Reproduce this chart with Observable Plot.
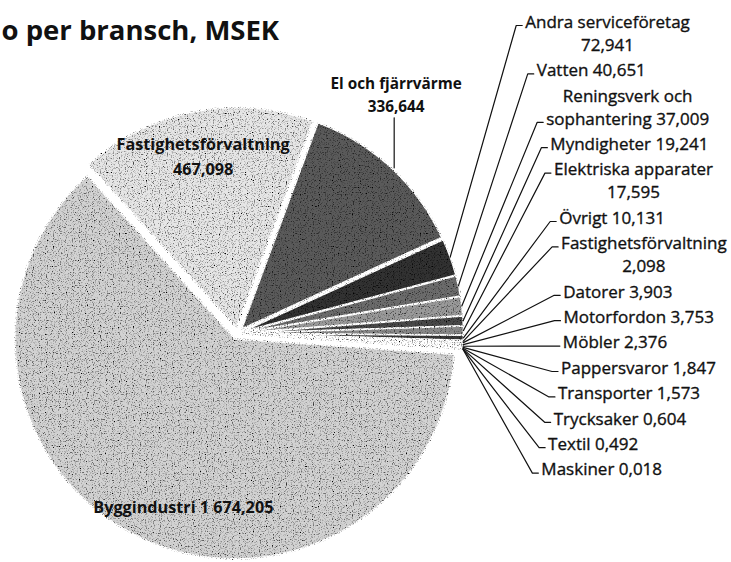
<!DOCTYPE html>
<html><head><meta charset="utf-8">
<script src="https://cdn.jsdelivr.net/npm/d3@7"></script>
<script src="https://cdn.jsdelivr.net/npm/@observablehq/plot@0.6"></script>
<style>body{margin:0;background:#fff}#chart svg{display:block}</style>
</head><body><div id="chart"></div>
<script>
// ---- data ----
const title = "o per bransch, MSEK";
const branscher = ["Byggindustri","Fastighetsförvaltning","El och fjärrvärme","Andra serviceföretag","Vatten","Reningsverk och sophantering","Myndigheter","Elektriska apparater","Övrigt","Fastighetsförvaltning","Datorer","Motorfordon","Möbler","Pappersvaror","Transporter","Trycksaker","Textil","Maskiner"];
const msek = [1674.205,467.098,336.644,72.941,40.651,37.009,19.241,17.595,10.131,2.098,3.903,3.753,2.376,1.847,1.573,0.604,0.492,0.018];
const labels = ["Byggindustri 1 674,205","Fastighetsförvaltning\n467,098","El och fjärrvärme\n336,644","Andra serviceföretag\n72,941","Vatten 40,651","Reningsverk och\nsophantering 37,009","Myndigheter 19,241","Elektriska apparater\n17,595","Övrigt 10,131","Fastighetsförvaltning\n2,098","Datorer 3,903","Motorfordon 3,753","Möbler 2,376","Pappersvaror 1,847","Transporter 1,573","Trycksaker 0,604","Textil 0,492","Maskiner 0,018"];

// ---- styles / layout ----
const grays = ["#d2d2d2","#e6e6e6","#5a5a5a","#303030","#6c6c6c","#9a9a9a","#484848","#888888","#383838","#a8a8a8","#606060","#969696","#3c3c3c","#b4b4b4","#707070","#505050","#a0a0a0","#2a2a2a"];
const W = 731, H = 562, CX = 237, CY = 333, R = 220;
const START = 94, EXPLODE = 6 / R, rad = Math.PI / 180;
const FONT = "'Open Sans', 'DejaVu Sans', sans-serif";
const LINE = 23, PITCH = 25.4, FIRST = 20;
const ux = p => (p - CX) / R, uy = p => (CY - p) / R;

const arcs = d3.pie().sort(null).value(d => d).startAngle(START * rad).endAngle(START * rad + 2 * Math.PI)(msek);
const slices = arcs.map((a, i) => {
  const mid = (a.startAngle + a.endAngle) / 2;
  return {i, name: branscher[i], value: msek[i], a0: a.startAngle, a1: a.endAngle, mid,
          ox: EXPLODE * Math.sin(mid), oy: EXPLODE * Math.cos(mid), fill: grays[i]};
});
const poly = [];
for (const s of slices) {
  poly.push({i: s.i, fill: s.fill, x: s.ox, y: s.oy});
  const n = Math.max(2, Math.ceil((s.a1 - s.a0) / (0.4 * rad)));
  for (let k = 0; k <= n; k++) {
    const a = s.a0 + (s.a1 - s.a0) * k / n;
    poly.push({i: s.i, fill: s.fill, x: s.ox + Math.sin(a), y: s.oy + Math.cos(a)});
  }
  poly.push({i: s.i, fill: s.fill, x: s.ox, y: s.oy});
}

// inside labels
const inside = [
  {s: slices[0], r: 0.79, da: -8.7},
  {s: slices[1], r: 0.80, da: 0}
].map(o => {
  const a = o.s.mid + o.da * rad;
  return {text: labels[o.s.i], x: o.s.ox + o.r * Math.sin(a), y: o.s.oy + o.r * Math.cos(a)};
});

// El label (above, vertical leader)
const el = slices[2];
const elArc = {x: el.ox + Math.sin(el.mid), y: el.oy + Math.cos(el.mid)};
const elTop = uy(CY - R * elArc.y - 50);
const elLeader = [{k: "el", x: elArc.x + 3 / R, y: elArc.y}, {k: "el", x: elArc.x + 3 / R, y: elTop}];
const elLabel = [{text: labels[2], x: elArc.x + 5 / R, y: elTop + 25 / R}];

// right labels
const ctx = document.createElement("canvas").getContext("2d");
ctx.font = "17px " + FONT;
const curve = t => t < 320 ? 563 - 0.00044 * (t - 320) ** 2 : 563 - 0.00095 * (t - 320) ** 2;
const right = [], leaders = [];
let y = FIRST;
for (let i = 3; i < slices.length; i++) {
  if (i > 3) y += PITCH;
  const lines = labels[i].split("\n");
  const widths = lines.map(l => ctx.measureText(l).width);
  const boxW = Math.max(...widths);
  const anchor = widths.indexOf(boxW);
  const tickY = y + anchor * LINE + 5;
  const lx = curve(tickY);
  right.push({text: labels[i], x: ux(lx + boxW / 2), y: uy(y + (lines.length - 1) * LINE / 2)});
  const s = slices[i];
  leaders.push({k: i, x: s.ox + Math.sin(s.mid), y: s.oy + Math.cos(s.mid)});
  leaders.push({k: i, x: ux(lx - 9), y: uy(tickY)});
  leaders.push({k: i, x: ux(lx - 3), y: uy(tickY)});
  y += (lines.length - 1) * LINE;
}

const chart = Plot.plot({
  width: W, height: H, margin: 0,
  x: {domain: [ux(0), ux(W)], range: [0, W], axis: null},
  y: {domain: [uy(H), uy(0)], range: [H, 0], axis: null},
  color: {type: "identity"},
  style: {background: "#fff"},
  marks: [
    Plot.line(poly, {x: "x", y: "y", z: "i", fill: "fill", stroke: "#fff", strokeWidth: 1.6, curve: "linear", className: "slices"}),
    Plot.line(leaders, {x: "x", y: "y", z: "k", stroke: "#111", strokeWidth: 1.2}),
    Plot.line(elLeader, {x: "x", y: "y", z: "k", stroke: "#111", strokeWidth: 1.2}),
    Plot.text(inside, {x: "x", y: "y", text: "text", fontFamily: FONT, fontWeight: "bold", fontSize: 16.2, fill: "#111", lineHeight: 1.55, textAnchor: "middle"}),
    Plot.text(elLabel, {x: "x", y: "y", text: "text", fontFamily: FONT, fontWeight: "bold", fontSize: 15.3, fill: "#111", lineHeight: 1.55, textAnchor: "middle"}),
    Plot.text(right, {x: "x", y: "y", text: "text", fontFamily: FONT, fontSize: 17, fill: "#111", stroke: "#111", strokeWidth: 0.35, lineHeight: LINE / 17, textAnchor: "middle"}),
    Plot.text([title], {frameAnchor: "top-left", dx: 1, dy: 31, lineAnchor: "middle", textAnchor: "start", fontFamily: FONT, fontWeight: "bold", fontSize: 27.5, fill: "#111"})
  ]
});
// scan-like grain on the slices
const ns = "http://www.w3.org/2000/svg";
const defs = document.createElementNS(ns, "defs");
defs.innerHTML = `<filter id="grain" x="-5%" y="-5%" width="110%" height="110%">
  <feTurbulence type="fractalNoise" baseFrequency="0.85" numOctaves="1" seed="4" result="t"/>
  <feColorMatrix in="t" type="matrix" values="0 0 0 0 0  0 0 0 0 0  0 0 0 0 0  -4 0 0 0 1.95" result="dots"/>
  <feComposite in="dots" in2="SourceGraphic" operator="atop"/>
</filter>`;
chart.prepend(defs);
const g = chart.querySelector("g.slices") || chart.querySelector("g[aria-label='line']");
if (g) g.setAttribute("filter", "url(#grain)");
document.getElementById("chart").append(chart);
</script></body></html>
